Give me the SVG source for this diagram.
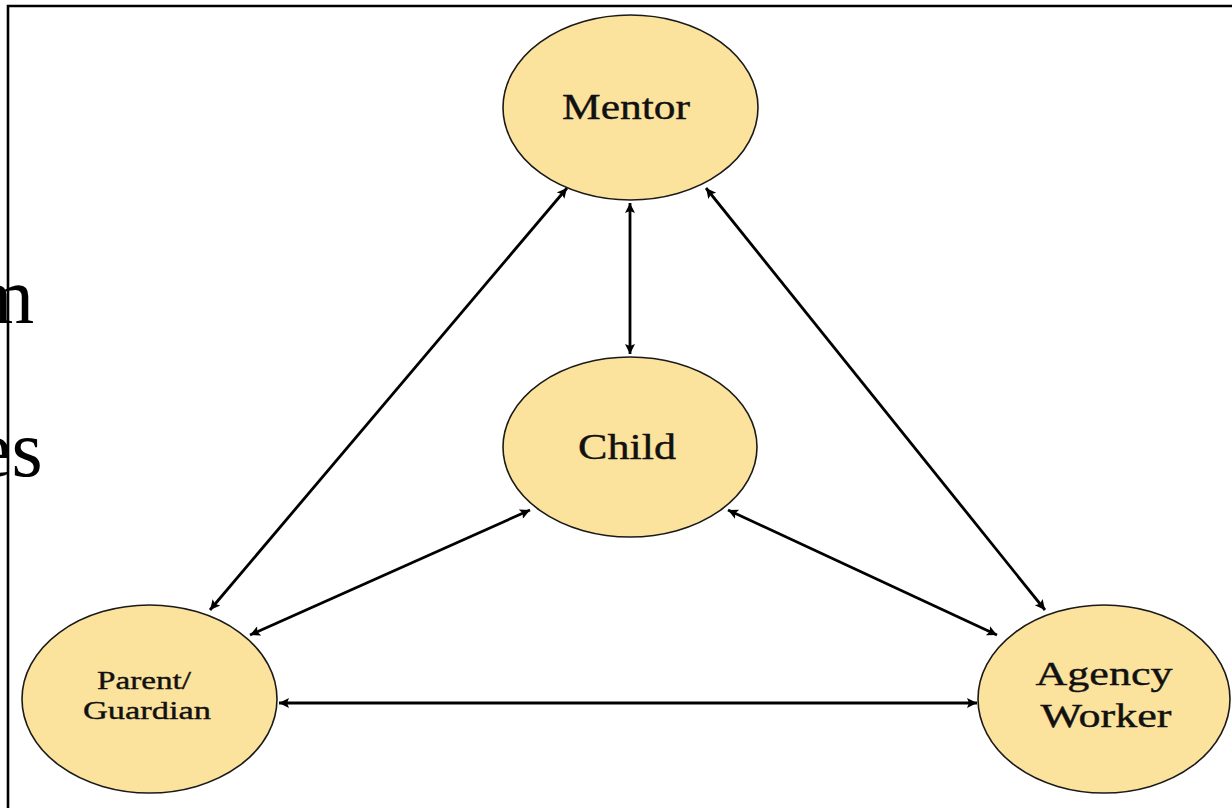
<svg xmlns="http://www.w3.org/2000/svg" width="1232" height="808" viewBox="0 0 1232 808">
<style>
.node{fill:#FCE39D;stroke:#1a1a1a;stroke-width:1.6}
.lbl{font-family:"Liberation Serif","Times New Roman",serif;fill:#111;stroke:#111;stroke-width:0.4;text-anchor:middle}
.conn{stroke:#000;stroke-width:2.8;fill:none;marker-start:url(#ah);marker-end:url(#ah)}
.bg{font-family:"Liberation Serif","Times New Roman",serif;fill:#000;font-size:80px}
</style>
<defs>
<marker id="ah" viewBox="0 0 10 10" refX="10" refY="5" markerWidth="13" markerHeight="10" markerUnits="userSpaceOnUse" orient="auto-start-reverse">
<path d="M0,0 L10,5 L0,10 L2,5 Z" fill="#000"/>
</marker>
</defs>
<rect width="1232" height="808" fill="#fff"/>
<g id="background-text">
<text class="bg" x="-28" y="323">m</text>
<text class="bg" x="-24" y="476">es</text>
</g>
<g id="frame">
<path d="M8,808 L8,6 L1232,6" fill="none" stroke="#000" stroke-width="2.6"/>
</g>
<g id="connectors">
<line class="conn" x1="567" y1="188" x2="210" y2="610"/>
<line class="conn" x1="630" y1="203" x2="630" y2="354"/>
<line class="conn" x1="706" y1="188" x2="1045" y2="610"/>
<line class="conn" x1="530" y1="510" x2="250" y2="635"/>
<line class="conn" x1="728" y1="510" x2="997" y2="635"/>
<line class="conn" x1="279" y1="703" x2="977" y2="703"/>
</g>
<g id="mentor">
<ellipse class="node" cx="630.5" cy="107.5" rx="127.5" ry="92.5"/>
<text class="lbl" x="626" y="119" font-size="36" textLength="128" lengthAdjust="spacingAndGlyphs">Mentor</text>
</g>
<g id="child">
<ellipse class="node" cx="630" cy="447" rx="127" ry="90"/>
<text class="lbl" x="627" y="459" font-size="36" textLength="98" lengthAdjust="spacingAndGlyphs">Child</text>
</g>
<g id="parent-guardian">
<ellipse class="node" cx="149.5" cy="699" rx="127.5" ry="94"/>
<text class="lbl" x="144" y="689" font-size="26" textLength="94" lengthAdjust="spacingAndGlyphs">Parent/</text>
<text class="lbl" x="147" y="719" font-size="26" textLength="128" lengthAdjust="spacingAndGlyphs">Guardian</text>
</g>
<g id="agency-worker">
<ellipse class="node" cx="1104" cy="699" rx="126" ry="94"/>
<text class="lbl" x="1104" y="685" font-size="33" textLength="137" lengthAdjust="spacingAndGlyphs">Agency</text>
<text class="lbl" x="1106" y="727" font-size="33" textLength="131" lengthAdjust="spacingAndGlyphs">Worker</text>
</g>
</svg>
